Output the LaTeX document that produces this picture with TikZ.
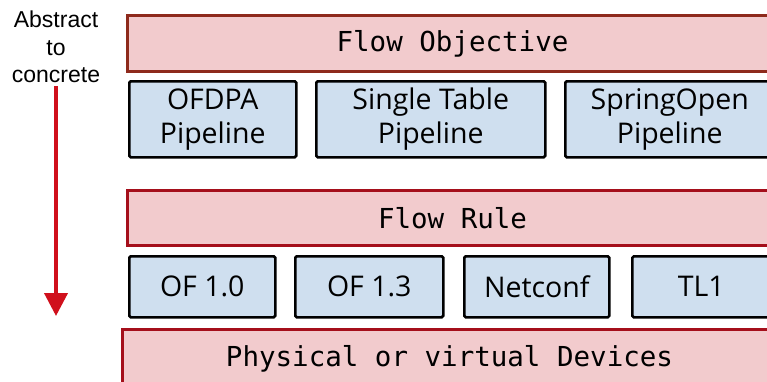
\documentclass[tikz,border=0pt]{standalone}
\usepackage{fontspec}
\setmainfont{Open Sans}
\setsansfont{Liberation Sans}
\setmonofont{DejaVu Sans Mono}
\usetikzlibrary{arrows.meta}
\definecolor{layerfill}{HTML}{F2CBCD}
\definecolor{objborder}{HTML}{8E2A1C}
\definecolor{ruleborder}{HTML}{A50F1B}
\definecolor{pipefill}{HTML}{CFDFEF}
\definecolor{arrowred}{HTML}{D0101C}
\tikzset{>={Triangle[width=23pt,length=23pt]}}
\tikzset{
	layer/.style={draw=ruleborder, fill=layerfill, line width=3pt, anchor=north west, inner sep=0pt,
		font=\ttfamily\fontsize{27.5}{30}\selectfont},
	pipe/.style={draw=black, fill=pipefill, line width=2.5pt, rounded corners=1.5pt, anchor=north west,
		inner sep=0pt, align=center, font=\fontsize{28.5}{34}\selectfont},
}

\begin{document}
\begin{tikzpicture}[x=1pt,y=-1pt]
		\useasboundingbox (0,0) rectangle (767,381);
		\clip (0,0) rectangle (767,381);
		% abstraction arrow
		\node[align=center, font=\sffamily\fontsize{23}{27.5}\selectfont] (dir) at (56,47) {Abstract\\to\\concrete};
		\coordinate (dirend) at (56,316);
		\draw[->, arrowred, line width=4pt] (dir.south) -- (dirend);
		% upper layers
		\node[layer, draw=objborder, minimum width=650, minimum height=56] (fobj) at (126,14) {Flow Objective};
		\node[pipe, minimum width=167, minimum height=76] (ofdpa) at (128,80) {OFDPA\\Pipeline};
		\node[pipe, minimum width=229, minimum height=76] (single) at (315,80) {Single Table\\Pipeline};
		\node[pipe, minimum width=209, minimum height=76] (spring) at (564,80) {SpringOpen\\Pipeline};
		% lower layers
		\node[layer, minimum width=650, minimum height=55] (frule) at (126,189) {Flow Rule};
		\node[pipe, minimum width=146, minimum height=61] (of10) at (128,255) {OF 1.0};
		\node[pipe, minimum width=148, minimum height=61] (of13) at (294,255) {OF 1.3};
		\node[pipe, minimum width=145, minimum height=61] (netconf) at (463,255) {Netconf};
		\node[pipe, minimum width=138, minimum height=61] (tl) at (631,255) {TL1};
		\node[layer, minimum width=654, minimum height=66, text height=20pt, text depth=12pt] (devices) at (121,328) {Physical or virtual Devices};
\end{tikzpicture}
\end{document}
